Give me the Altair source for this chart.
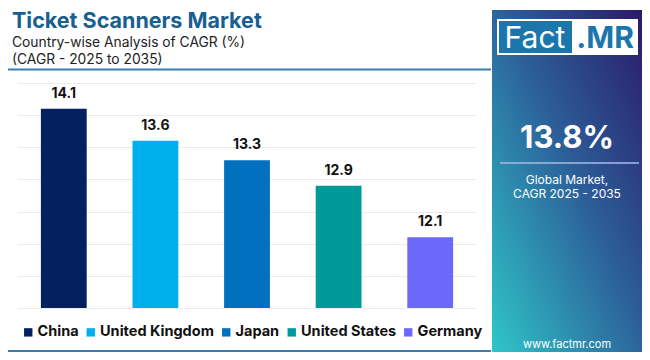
import altair as alt
import pandas as pd

countries = ["China", "United Kingdom", "Japan", "United States", "Germany"]
cagr = [14.1, 13.6, 13.3, 12.9, 12.1]
colors = ["#03205f", "#00b0ec", "#0070bf", "#00999a", "#6b68fb"]
grid_values = [11, 11.5, 12, 12.5, 13, 13.5, 14, 14.5]

title = "Ticket Scanners Market"
subtitle1 = "Country-wise Analysis of CAGR (%)"
subtitle2 = "(CAGR - 2025 to 2035)"
global_value = "13.8%"
global_l1 = "Global Market,"
global_l2 = "CAGR 2025 - 2035"
site = "www.factmr.com"

df = pd.DataFrame({"country": countries, "cagr": cagr})

# page -> plot-area coordinates (plot origin at page (18, 83))
def px(v):
    return v - 18

def py(v):
    return v - 83

FONT = "Inter"
one = alt.Data(values=[{"a": 1}])

xenc = alt.X("country:N", sort=countries,
             scale=alt.Scale(paddingInner=0.5, paddingOuter=0.25),
             axis=alt.Axis(title=None, labels=False, ticks=False, domain=False, grid=False))
yscale = alt.Scale(domain=[11, 14.5], zero=False, nice=False)
yaxis = alt.Axis(title=None, labels=False, ticks=False, domain=False,
                 values=grid_values, gridColor="#ebebeb", gridWidth=1)

bars = alt.Chart(df).mark_bar().encode(
    x=xenc,
    y=alt.Y("cagr:Q", scale=yscale, axis=yaxis),
    y2=alt.datum(11),
    color=alt.Color("country:N", scale=alt.Scale(domain=countries, range=colors),
                    legend=alt.Legend(title=None, orient="none", direction="horizontal",
                                      legendX=px(21), legendY=py(325),
                                      symbolType="square", symbolSize=70,
                                      symbolStrokeWidth=0, symbolOpacity=1,
                                      labelFont=FONT, labelFontSize=14.5,
                                      labelFontWeight="bold", labelColor="#111111",
                                      labelOffset=2, columnPadding=4.5,
                                      labelLimit=300)),
)

labels = alt.Chart(df).mark_text(font=FONT, fontSize=14, fontWeight="bold",
                                 color="#111111", baseline="bottom", dy=-8).encode(
    x=xenc,
    y=alt.Y("cagr:Q", scale=yscale, axis=yaxis),
    text=alt.Text("cagr:Q", format=".1f"),
)

def txt(s, x, y, size, weight="normal", color="#222222", align="left", font=FONT, baseline="alphabetic"):
    return alt.Chart(one).mark_text(text=s, font=font, fontSize=size, fontWeight=weight,
                                    color=color, align=align, baseline=baseline).encode(
        x=alt.value(px(x)), y=alt.value(py(y)))

def rect(x1, x2, y1, y2, color, **kw):
    return alt.Chart(one).mark_rect(color=color, **kw).encode(
        x=alt.value(px(x1)), x2=alt.value(px(x2)),
        y=alt.value(py(y1)), y2=alt.value(py(y2)))

def hrule(x1, x2, y, color, width):
    return alt.Chart(one).mark_rule(color=color, strokeWidth=width).encode(
        x=alt.value(px(x1)), x2=alt.value(px(x2)), y=alt.value(py(y)))

gradient = alt.LinearGradient(
    gradient="linear", x1=1, y1=0, x2=0, y2=1,
    stops=[alt.GradientStop(offset=0, color="#2a1a6a"),
           alt.GradientStop(offset=0.45, color="#2c5c98"),
           alt.GradientStop(offset=1, color="#2fc6c8")])

decor = [
    txt(title, 12, 28, 21.5, "bold", "#17608f"),
    txt(subtitle1, 12, 46.5, 13.8, "normal", "#222222"),
    txt(subtitle2, 12, 63.5, 13.8, "normal", "#222222"),
    hrule(8, 491, 69.5, "#3a7cae", 2),
    hrule(8, 491, 351, "#3a7cae", 2),
    rect(492, 642, 10, 352, gradient),
    rect(497, 638, 19, 55, "#ffffff"),
    rect(499, 572, 21, 53, "#1b76ae"),
    txt("Fact", 535, 48, 30, "normal", "#ffffff", "center"),
    txt(".MR", 605, 48, 30, "bold", "#1b76ae", "center"),
    txt(global_value, 567, 148, 31, "bold", "#ffffff", "center"),
    hrule(500, 639, 163, "#a9bde0", 1.5),
    txt(global_l1, 567, 184, 12, "normal", "#ffffff", "center"),
    txt(global_l2, 567, 198, 12, "normal", "#ffffff", "center"),
    txt(site, 567, 348, 11, "normal", "#ffffff", "center"),
]

chart = alt.layer(bars, labels, *decor).properties(
    width=458, height=225,
    autosize=alt.AutoSizeParams(type="none"),
    padding={"left": 10, "top": 75, "right": 166, "bottom": 44},
    background="#ffffff",
).configure_view(stroke=None)

chart.save("out.html", embed_options={"renderer": "svg", "actions": False})
